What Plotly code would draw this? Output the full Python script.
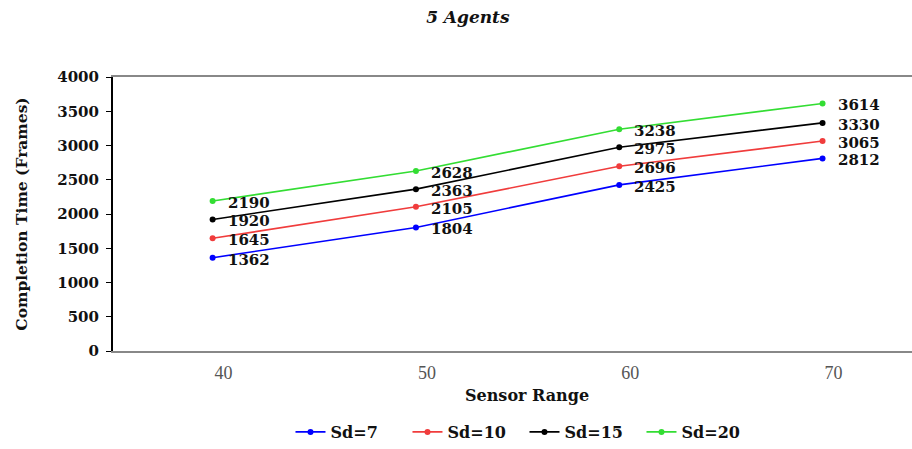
import plotly.graph_objects as go

# Sensor range categories and completion times (frames) per Sd setting
sensor_range = ["40", "50", "60", "70"]
sd7 = [1362, 1804, 2425, 2812]
sd10 = [1645, 2105, 2696, 3065]
sd15 = [1920, 2363, 2975, 3330]
sd20 = [2190, 2628, 3238, 3614]

series_names = ["Sd=7", "Sd=10", "Sd=15", "Sd=20"]
series_values = [sd7, sd10, sd15, sd20]
series_colors = ["#0000ff", "#f03c3c", "#000000", "#33dd33"]

SERIF = "Liberation Serif, Times New Roman, serif"
BOLD = "DejaVu Serif, serif"

fig = go.Figure()
for name, vals, col in zip(series_names, series_values, series_colors):
    fig.add_trace(go.Scatter(
        x=sensor_range, y=vals, name=name,
        mode="lines+markers",
        line=dict(color=col, width=1.6),
        marker=dict(color=col, size=6),
    ))
    # value labels sit a little to the right of each point
    # (category axes place annotations by category index)
    for idx, v in enumerate(vals):
        fig.add_annotation(
            x=idx, y=v, text=str(v), showarrow=False,
            xanchor="left", yanchor="middle", xshift=13, yshift=-2,
            font=dict(family=BOLD, size=15, color="#111111", weight="bold"),
        )

fig.update_layout(
    width=912, height=449,
    margin=dict(l=113, r=0, t=77, b=95),
    paper_bgcolor="white", plot_bgcolor="white",
    title=dict(text="<b><i>5 Agents</i></b>", x=0.513, xanchor="center",
               y=0.962, yanchor="middle",
               font=dict(family=BOLD, size=17, color="#111111")),
    font=dict(family=SERIF, color="#111111"),
    showlegend=True,
    legend=dict(orientation="h", x=0.515, xanchor="center", y=-0.297, yanchor="middle",
                font=dict(family=BOLD, size=16, color="#111111", weight="bold"),
                entrywidth=72, entrywidthmode="pixels",
                itemwidth=30, tracegroupgap=0),
)

fig.add_annotation(
    text="<b>Sensor Range</b>", xref="paper", yref="paper",
    x=0.518, y=-0.162, xanchor="center", yanchor="middle", showarrow=False,
    font=dict(family=BOLD, size=16, color="#111111"),
)

fig.update_xaxes(
    type="category", range=[-0.49, 3.44],
    showline=True, linecolor="#888888", linewidth=2, mirror=True,
    showgrid=False, ticks="", zeroline=False,
    tickfont=dict(family=SERIF, size=18, color="#555555"),
    ticklabelshift=11, ticklabelstandoff=4,
)

fig.update_yaxes(
    range=[0, 4000], dtick=500,
    showline=True, linecolor="#000000", linewidth=2,
    showgrid=False, zeroline=False,
    ticks="outside", ticklen=5, tickcolor="#000000", tickwidth=1,
    ticklabelstandoff=4,
    tickfont=dict(family=BOLD, size=15, color="#111111", weight="bold"),
    title=dict(text="<b>Completion Time (Frames)</b>", standoff=26,
               font=dict(family=BOLD, size=15.5, color="#111111")),
)

fig.write_html("out.html")
